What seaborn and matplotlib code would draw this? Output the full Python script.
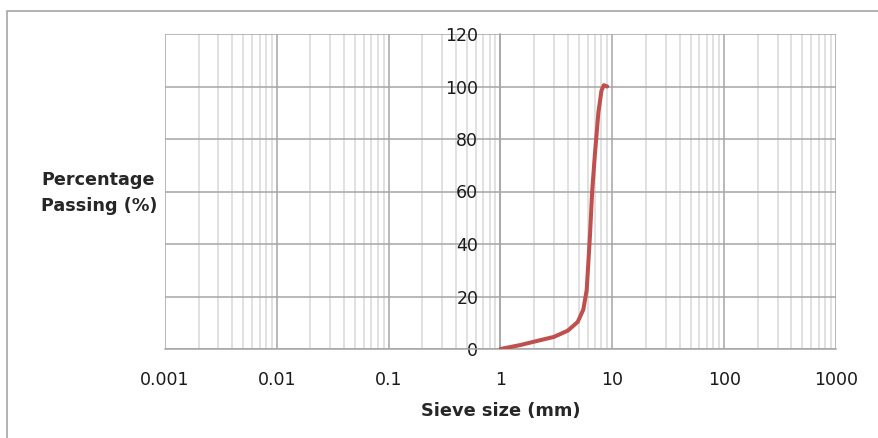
import numpy as np
import pandas as pd
import seaborn as sns
import matplotlib.pyplot as plt
from matplotlib.ticker import LogLocator, FixedLocator, NullFormatter
from matplotlib.patches import Rectangle

# gradation curve
sieve_mm = [1.0, 1.5, 2.0, 3.0, 4.0, 4.9, 5.5, 5.9, 6.3, 6.6, 7.0, 7.5, 8.0, 8.4, 9.0]
passing = [0.0, 1.5, 2.8, 4.6, 7.0, 10.3, 15.0, 22.5, 42.7, 60.0, 74.7, 90.0, 98.5, 100.5, 100.0]
x_ticks = [0.001, 0.01, 0.1, 1, 10, 100, 1000]
x_labels = ["0.001", "0.01", "0.1", "1", "10", "100", "1000"]
y_ticks = [0, 20, 40, 60, 80, 100, 120]

df = pd.DataFrame({"sieve": sieve_mm, "passing": passing})

sns.set_style("white")
plt.rcParams["font.family"] = ["DejaVu Sans"]

fig = plt.figure(figsize=(8.79, 4.38), dpi=100)
ax = fig.add_axes([165 / 879, 1 - 349 / 438, (836 - 165) / 879, (349 - 34) / 438])

# outer chart border like the Excel frame
fig.patches.append(Rectangle((7 / 879, -0.05), 1.2, 1 - 11 / 438 + 0.05,
                             transform=fig.transFigure, fill=False,
                             edgecolor="#a6a6a6", linewidth=1.2))

sns.lineplot(data=df, x="sieve", y="passing", ax=ax, color="#c0504d",
             linewidth=2.9, zorder=5, sort=False)

ax.set_xscale("log")
ax.set_xlim(0.001, 1000)
ax.set_ylim(0, 120)

ax.xaxis.set_major_locator(FixedLocator(x_ticks))
ax.set_xticklabels(x_labels)
ax.xaxis.set_minor_locator(LogLocator(base=10, subs=np.arange(2, 10)))
ax.xaxis.set_minor_formatter(NullFormatter())
ax.set_yticks(y_ticks)

ax.grid(True, which="major", axis="both", color="#a6a6a6", linewidth=1.1, zorder=1)
ax.grid(True, which="minor", axis="x", color="#d9d9d9", linewidth=1.1, zorder=1)
ax.set_axisbelow(True)

for s in ["top", "right"]:
    ax.spines[s].set_visible(False)
ax.spines["bottom"].set_color("#a6a6a6")
ax.spines["bottom"].set_linewidth(1.1)
ax.spines["left"].set_position(("data", 1))
ax.spines["left"].set_color("#a6a6a6")
ax.spines["left"].set_linewidth(1.1)

ax.tick_params(axis="x", which="major", direction="out", length=5, width=1.1,
               color="#a6a6a6", labelsize=12.5, pad=11, labelcolor="#1a1a1a")
ax.tick_params(axis="x", which="minor", length=0)
ax.tick_params(axis="y", which="major", length=0, labelsize=12.5, pad=16,
               labelcolor="#1a1a1a")

ax.set_xlabel("Sieve size (mm)", fontsize=12.8, fontweight="bold", labelpad=9)
ax.set_ylabel("Percentage\nPassing (%)", fontsize=12.7, fontweight="bold",
              rotation=0, ha="right", va="center", multialignment="left",
              linespacing=1.55)
ax.yaxis.set_label_coords(-0.011, 0.495)

fig.savefig("out.png", dpi=100)
